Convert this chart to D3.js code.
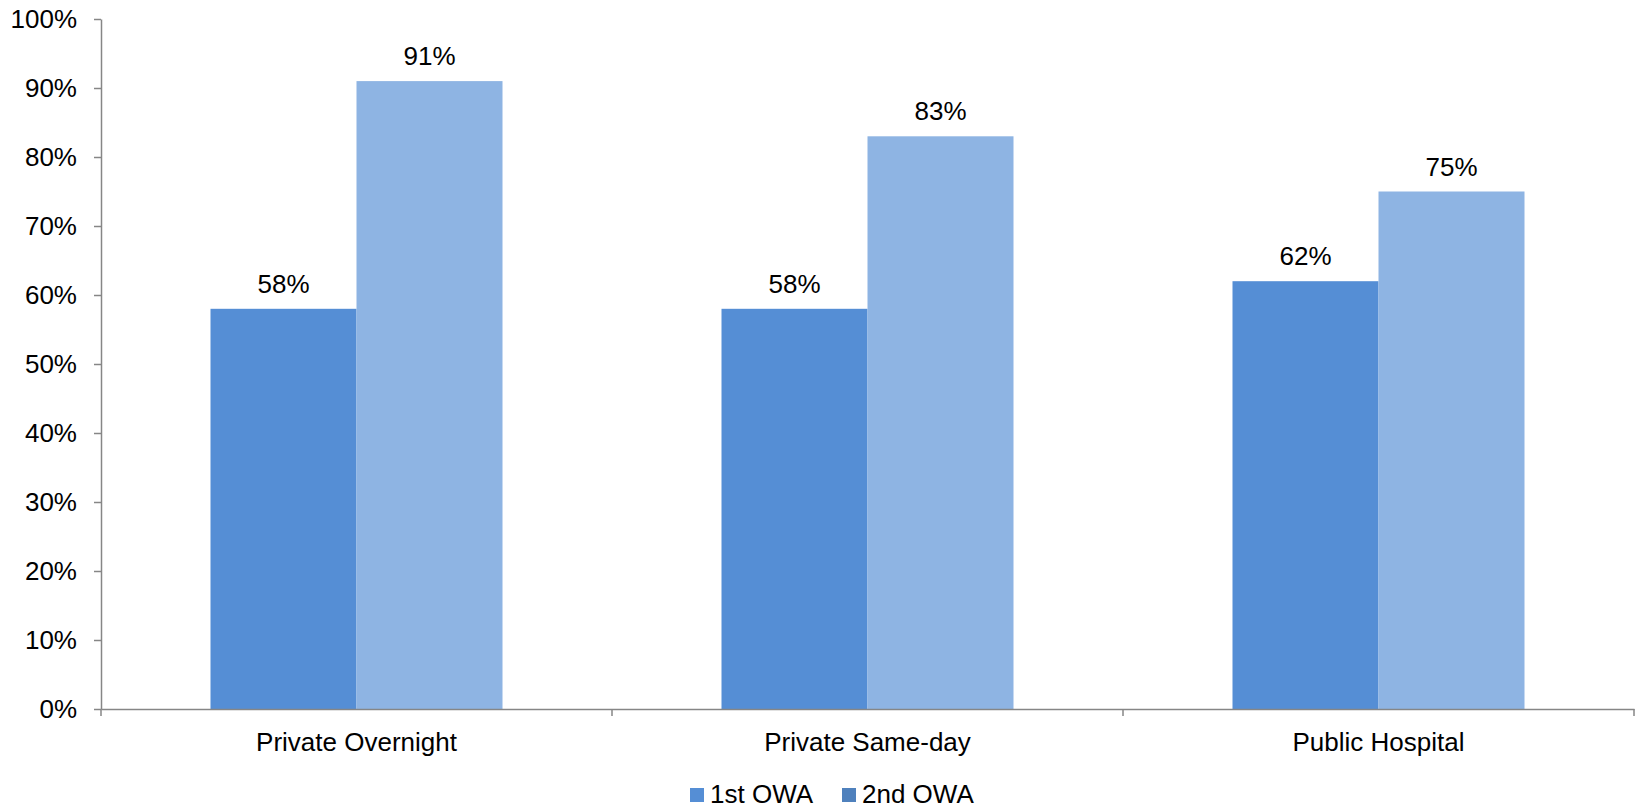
<!DOCTYPE html>
<html>
<head>
<meta charset="utf-8">
<script src="https://cdn.jsdelivr.net/npm/d3@7"></script>
<style>
  body { margin: 0; background: #fff; }
  text { font-family: "Liberation Sans", Arial, sans-serif; fill: #000; }
</style>
</head>
<body>
<div id="chart"></div>
<script>
var categories = ['Private Overnight', 'Private Same-day', 'Public Hospital'];
var seriesNames = ['1st OWA', '2nd OWA'];
var firstOwa = [58, 58, 62];
var secondOwa = [91, 83, 75];
var yTicks = [0, 10, 20, 30, 40, 50, 60, 70, 80, 90, 100];

var barColors = ['#558ed5', '#8eb4e3'];
var legendColors = ['#558ed5', '#4f81bd'];
var fontSize = 26;

var width = 1639, height = 809;
var margin = {top: 19, right: 5, bottom: 100, left: 101};
var innerW = width - margin.left - margin.right;
var innerH = height - margin.top - margin.bottom;

var data = categories.map(function(c, i) {
  return {category: c, values: [firstOwa[i], secondOwa[i]]};
});

var svg = d3.select('#chart').append('svg')
    .attr('width', width)
    .attr('height', height)
  .append('g')
    .attr('transform', 'translate(' + margin.left + ',' + margin.top + ')');

var xScale = d3.scaleBand()
  .domain(categories)
  .range([0, innerW])
  .paddingInner(0)
  .paddingOuter(0);

// gap width 150% -> bars take 2/(2+1.5) of each band
var groupW = xScale.bandwidth() * 2 / 3.5;
var xInner = d3.scaleBand()
  .domain([0, 1])
  .range([(xScale.bandwidth() - groupW) / 2, (xScale.bandwidth() + groupW) / 2]);

var yScale = d3.scaleLinear()
  .domain([0, 100])
  .range([innerH, 0]);

// bars
var groups = svg.append('g')
    .attr('class', 'bars')
  .selectAll('.group')
    .data(data)
  .enter().append('g')
    .attr('class', 'group')
    .attr('transform', function(d) { return 'translate(' + xScale(d.category) + ',0)'; });

groups.selectAll('rect')
    .data(function(d) { return d.values; })
  .enter().append('rect')
    .attr('x', function(d, i) { return xInner(i); })
    .attr('width', xInner.bandwidth())
    .attr('y', function(d) { return yScale(d); })
    .attr('height', function(d) { return innerH - yScale(d); })
    .attr('fill', function(d, i) { return barColors[i]; });

groups.selectAll('.value')
    .data(function(d) { return d.values; })
  .enter().append('text')
    .attr('class', 'value')
    .attr('x', function(d, i) { return xInner(i) + xInner.bandwidth() / 2; })
    .attr('y', function(d) { return yScale(d) - 16; })
    .attr('text-anchor', 'middle')
    .attr('font-size', fontSize)
    .text(function(d) { return d + '%'; });

// y axis
var yAxis = d3.axisLeft(yScale)
  .tickValues(yTicks)
  .tickFormat(function(d) { return d + '%'; })
  .tickSize(7)
  .tickSizeOuter(0)
  .tickPadding(17);

var gy = svg.append('g')
  .attr('class', 'axis axis--y')
  .call(yAxis);
gy.selectAll('text')
  .attr('font-size', fontSize)
  .attr('dy', '0.33em')
  .attr('font-family', '"Liberation Sans", Arial, sans-serif')
  .attr('fill', '#000');

// x axis: ticks at category boundaries
var xAxis = d3.axisBottom(xScale)
  .tickSize(0)
  .tickPadding(23.5);

var gx = svg.append('g')
  .attr('class', 'axis axis--x')
  .attr('transform', 'translate(0,' + innerH + ')')
  .call(xAxis);
gx.selectAll('text')
  .attr('font-size', fontSize)
  .attr('font-family', '"Liberation Sans", Arial, sans-serif')
  .attr('fill', '#000');

var bounds = categories.map(function(c) { return xScale(c); }).concat([innerW]);
gx.selectAll('.bound')
    .data(bounds)
  .enter().append('line')
    .attr('class', 'bound')
    .attr('x1', function(d) { return d; })
    .attr('x2', function(d) { return d; })
    .attr('y1', 0)
    .attr('y2', 7)
    .attr('stroke', '#868686')
    .attr('stroke-width', 1.5);

svg.selectAll('.axis path, .axis line')
  .attr('stroke', '#868686')
  .attr('stroke-width', 1.5);

// legend
var legend = svg.append('g')
  .attr('class', 'legend')
  .attr('transform', 'translate(' + (690 - margin.left) + ',' + (788 - margin.top) + ')');

var legendOffsets = [0, 152];
seriesNames.forEach(function(name, i) {
  legend.append('rect')
    .attr('x', legendOffsets[i])
    .attr('y', 0)
    .attr('width', 14)
    .attr('height', 14)
    .attr('fill', legendColors[i]);
  legend.append('text')
    .attr('x', legendOffsets[i] + 20)
    .attr('y', 15)
    .attr('font-size', fontSize)
    .text(name);
});
</script>
</body>
</html>
